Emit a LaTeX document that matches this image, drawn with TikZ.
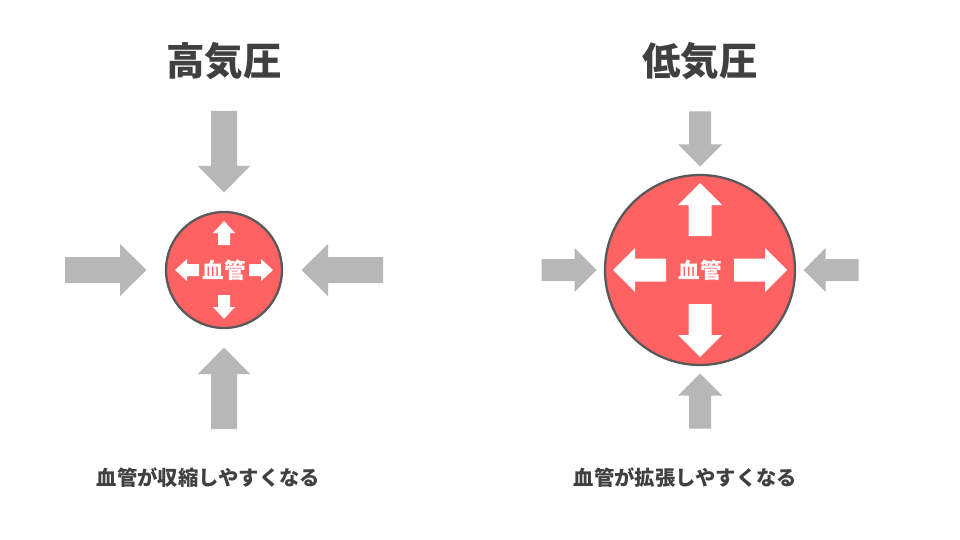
\documentclass[tikz,border=0pt]{standalone}
\usepackage{fontspec}
\setmainfont{Noto Sans CJK JP}
\definecolor{vred}{HTML}{FF6262}
\definecolor{vrim}{HTML}{595959}
\definecolor{pgray}{HTML}{B7B7B7}
\definecolor{txt}{HTML}{404040}
% #1,#2 centre, #3 angle, #4 tail r, #5 head-base r, #6 tip r, #7 shaft half width, #8 head half width, #9 colour
\newcommand\BArrow[9]{%
  \fill[#9,shift={(#1,#2)},rotate=#3]
    (#4,-#7) -- (#5,-#7) -- (#5,-#8) -- (#6,0) -- (#5,#8) -- (#5,#7) -- (#4,#7) -- cycle;}
\begin{document}
\begin{tikzpicture}[x=1pt,y=-1pt,
  vessel/.style={circle,draw=vrim,line width=2.3pt,fill=vred,inner sep=0pt},
  title/.style={font=\bfseries\fontsize{38.5}{42}\selectfont,text=txt},
  caption/.style={font=\bfseries\fontsize{20.3}{23}\selectfont,text=txt},
  inner/.style={font=\bfseries\fontsize{21.5}{24}\selectfont,text=white}]
\fill[white] (0,0) rectangle (960,540);
\useasboundingbox (0,0) rectangle (960,540);

% titles
\node[title] (t1) at (224,61) {高気圧};
\node[title] (t2) at (700,61) {低気圧};

% left: high pressure
\foreach \a in {0,90,180,270}{\BArrow{224}{270}{\a}{159}{104}{77.5}{13}{26}{pgray}}
\node[vessel,minimum size=116pt] (v1) at (224,270) {};
\foreach \a in {0,90,180,270}{\BArrow{224}{270}{\a}{25}{37}{49}{6}{11}{white}}
\node[inner] (l1) at (224,270) {血管};

% right: low pressure
\foreach \a in {0,90,180,270}{\BArrow{700}{270}{\a}{158.5}{125.5}{103.5}{11}{22}{pgray}}
\node[vessel,minimum size=190pt] (v2) at (700,270) {};
\foreach \a in {0,90,180,270}{\BArrow{700}{270}{\a}{34}{65}{87}{11.5}{22}{white}}
\node[inner] (l2) at (700,270) {血管};

% captions
\node[caption] (c1) at (208.5,478) {血管が収縮しやすくなる};
\node[caption] (c2) at (685.5,478) {血管が拡張しやすくなる};
\end{tikzpicture}
\end{document}
